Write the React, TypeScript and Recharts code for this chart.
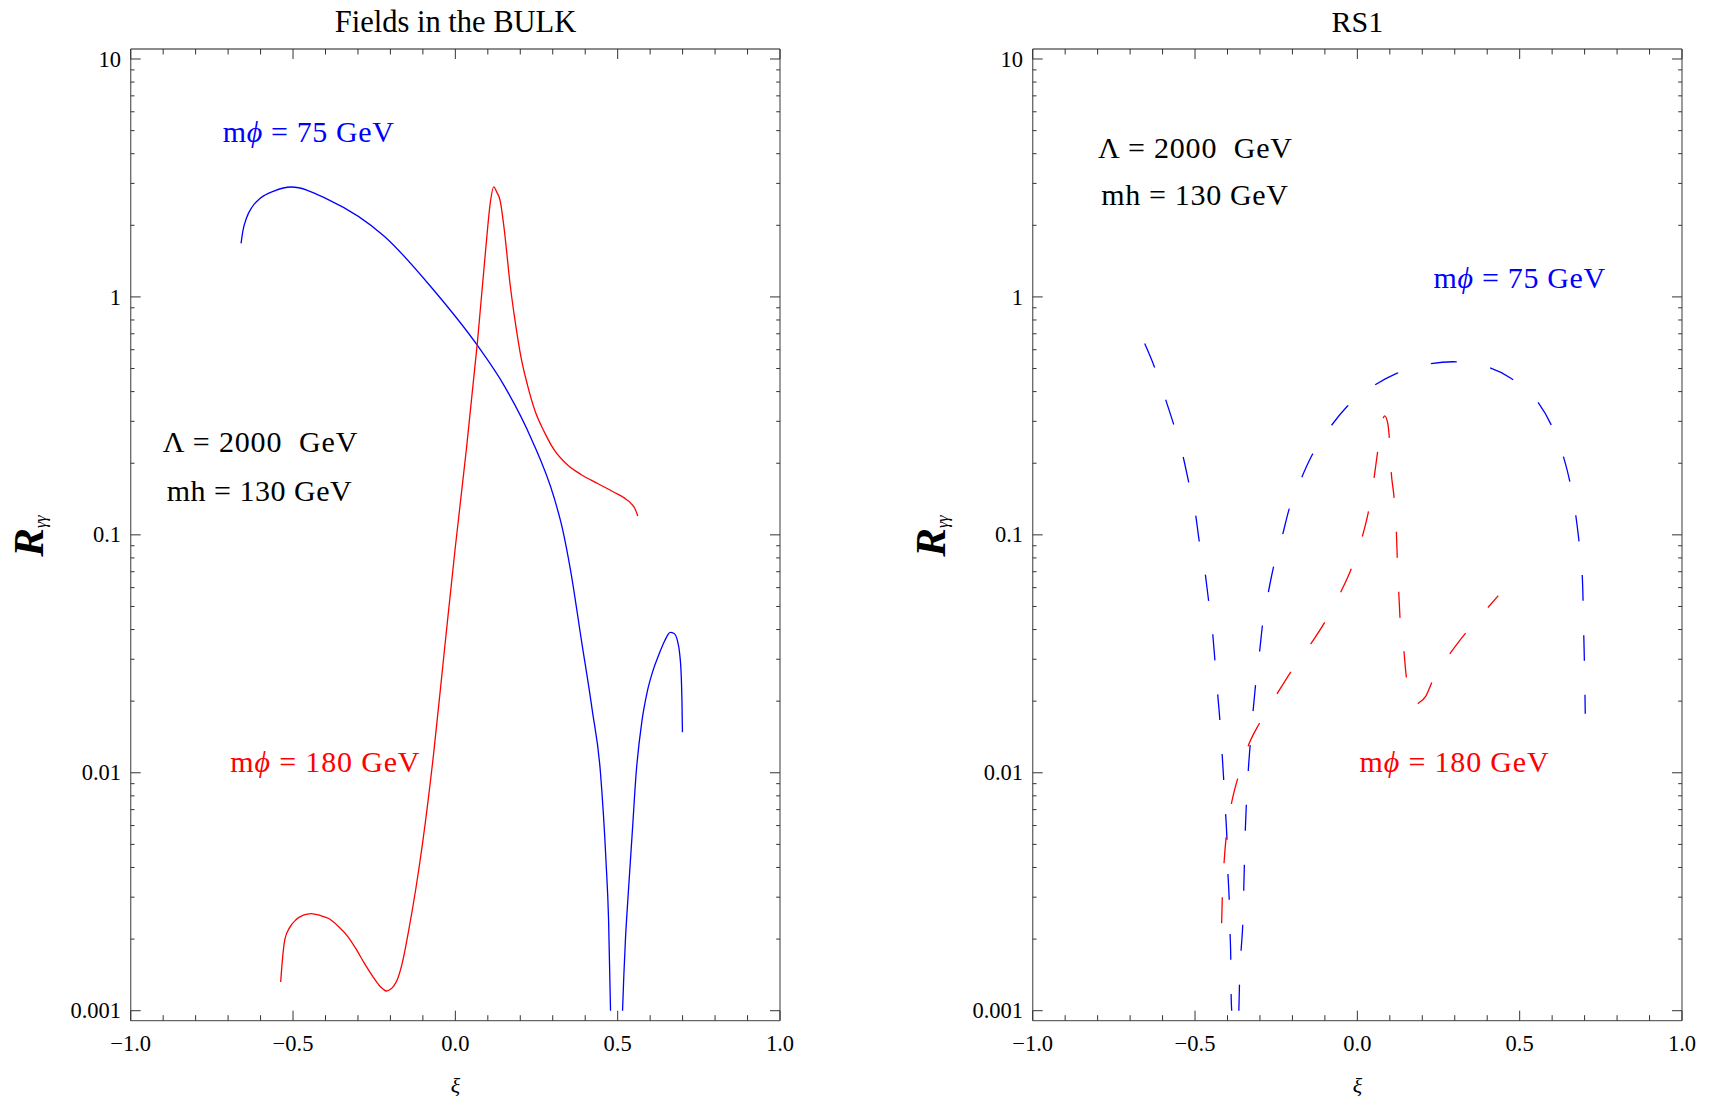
import React from 'react';
import { LineChart, Line, XAxis, YAxis } from 'recharts';

// ---- data: [ξ, Rγγ] pairs ----
// Fields in the BULK, mφ = 75 GeV (two branches either side of the zero near ξ≈0.5)
const bulk75A: number[][] = [
  [-0.66, 1.679], [-0.655, 1.875], [-0.643, 2.153], [-0.626, 2.388], [-0.601, 2.6],
  [-0.559, 2.786], [-0.506, 2.897], [-0.39, 2.56], [-0.219, 1.8], [-0.067, 1.069],
  [0.068, 0.625], [0.152, 0.42], [0.236, 0.25], [0.304, 0.1435], [0.33, 0.106],
  [0.355, 0.0708], [0.388, 0.0363], [0.422, 0.0182], [0.447, 0.01], [0.464, 0.00427],
  [0.472, 0.0024], [0.478, 0.001],
];
const bulk75B: number[][] = [
  [0.515, 0.001], [0.519, 0.00141], [0.524, 0.002], [0.532, 0.00302], [0.545, 0.00562],
  [0.557, 0.01], [0.575, 0.0166], [0.591, 0.0219], [0.61, 0.0272], [0.625, 0.0309],
  [0.645, 0.0359], [0.662, 0.0389], [0.674, 0.0385], [0.684, 0.0359], [0.691, 0.0316],
  [0.696, 0.0251], [0.698, 0.02], [0.6995, 0.0148],
];
// Fields in the BULK, mφ = 180 GeV
const bulk180: number[][] = [
  [-0.538, 0.00132], [-0.533, 0.00162], [-0.525, 0.002], [-0.51, 0.00224], [-0.491, 0.00241],
  [-0.468, 0.00252], [-0.444, 0.00256], [-0.415, 0.00251], [-0.39, 0.00244], [-0.36, 0.00226],
  [-0.33, 0.00204], [-0.305, 0.00181], [-0.28, 0.00158], [-0.254, 0.00139], [-0.235, 0.00128],
  [-0.222, 0.00123], [-0.212, 0.00121], [-0.2, 0.00123], [-0.19, 0.00127], [-0.178, 0.00136],
  [-0.162, 0.00162], [-0.145, 0.00213], [-0.122, 0.00324], [-0.101, 0.00506], [-0.067, 0.012],
  [-0.034, 0.0324], [0.0, 0.0891], [0.034, 0.229], [0.068, 0.646], [0.093, 1.56],
  [0.108, 2.51], [0.118, 2.9], [0.128, 2.75], [0.138, 2.54], [0.15, 1.95],
  [0.169, 1.12], [0.185, 0.776], [0.202, 0.56], [0.222, 0.427], [0.245, 0.333],
  [0.275, 0.269], [0.304, 0.228], [0.345, 0.197], [0.388, 0.179], [0.44, 0.164],
  [0.489, 0.151], [0.52, 0.143], [0.54, 0.136], [0.553, 0.129], [0.562, 0.12],
];
// RS1, mφ = 75 GeV
const rs75A: number[][] = [
  [-0.655, 0.637], [-0.625, 0.508], [-0.591, 0.372], [-0.566, 0.292], [-0.537, 0.214],
  [-0.519, 0.165], [-0.498, 0.121], [-0.487, 0.094], [-0.47, 0.071], [-0.459, 0.054],
  [-0.446, 0.039], [-0.439, 0.03], [-0.431, 0.022], [-0.424, 0.017], [-0.417, 0.0123],
  [-0.412, 0.0095], [-0.406, 0.0068], [-0.402, 0.0054], [-0.399, 0.0039], [-0.395, 0.003],
  [-0.392, 0.0021], [-0.39, 0.00168], [-0.389, 0.00121], [-0.387, 0.001],
];
const rs75B: number[][] = [
  [-0.365, 0.001], [-0.363, 0.0013], [-0.358, 0.0018], [-0.353, 0.0023], [-0.35, 0.0032],
  [-0.345, 0.0058], [-0.342, 0.0073], [-0.336, 0.0102], [-0.33, 0.0132], [-0.321, 0.0183],
  [-0.313, 0.0238], [-0.301, 0.0324], [-0.292, 0.042], [-0.274, 0.0575], [-0.257, 0.0745],
  [-0.232, 0.098], [-0.211, 0.127], [-0.174, 0.171], [-0.139, 0.217], [-0.085, 0.282],
  [-0.031, 0.347], [0.05, 0.423], [0.121, 0.477], [0.223, 0.523], [0.295, 0.534],
  [0.405, 0.505], [0.473, 0.455], [0.553, 0.366], [0.596, 0.292], [0.633, 0.217],
  [0.653, 0.171], [0.672, 0.123], [0.682, 0.096], [0.692, 0.071], [0.695, 0.0546],
  [0.697, 0.04], [0.699, 0.0308], [0.701, 0.022], [0.702, 0.0177],
];
// RS1, mφ = 180 GeV
const rs180: number[][] = [
  [-0.418, 0.00233], [-0.416, 0.003], [-0.411, 0.0041], [-0.404, 0.0054], [-0.389, 0.0073],
  [-0.38, 0.0083], [-0.368, 0.0095], [-0.334, 0.0132], [-0.301, 0.0162], [-0.248, 0.0214],
  [-0.203, 0.0268], [-0.144, 0.0347], [-0.098, 0.0435], [-0.051, 0.0575], [-0.017, 0.073],
  [0.013, 0.096], [0.033, 0.123], [0.05, 0.168], [0.062, 0.221], [0.076, 0.297],
  [0.084, 0.316], [0.093, 0.297], [0.099, 0.25], [0.104, 0.186], [0.113, 0.144],
  [0.12, 0.105], [0.123, 0.08], [0.127, 0.0595], [0.131, 0.0458], [0.143, 0.033],
  [0.15, 0.0259], [0.16, 0.0215], [0.172, 0.0192], [0.188, 0.0196], [0.211, 0.021],
  [0.233, 0.0246], [0.287, 0.0319], [0.338, 0.0393], [0.405, 0.05], [0.434, 0.0555],
];

// ---- axes ----
const X_TICKS = [
  -1, -0.9, -0.8, -0.7, -0.6, -0.5, -0.4, -0.3, -0.2, -0.1, 0,
  0.1, 0.2, 0.3, 0.4, 0.5, 0.6, 0.7, 0.8, 0.9, 1,
];
const Y_DECADES = [0.001, 0.01, 0.1, 1, 10];
const Y_MANTISSAS = [1, 2, 3, 4, 5, 6, 7, 8, 9];
const Y_TICKS = Y_DECADES.flatMap((d, i) =>
  i === Y_DECADES.length - 1 ? [d] : Y_MANTISSAS.map((m) => +(d * m).toPrecision(3))
);
const Y_PAD = 0.042;
const Y_DOMAIN = [Math.pow(10, -3 - Y_PAD), Math.pow(10, 1 + Y_PAD)];

const BLUE = '#0000ff';
const RED = '#ff0000';
const FRAME = '#666666';
const TICK = '#333333';
const SERIF = "'Liberation Serif', 'Times New Roman', serif";
const DASH = '26 34';

const toPts = (rows: number[][]) => rows.map(([x, y]) => ({ x, y }));
const isMajorX = (v: number) => Math.abs(v * 2 - Math.round(v * 2)) < 1e-6;
const isMajorY = (v: number) => {
  const l = Math.log10(v);
  return Math.abs(l - Math.round(l)) < 1e-6;
};
const fmtX = (v: number) => (v < 0 ? '\u2212' : '') + Math.abs(v).toFixed(1);

const BottomTick = (p: any) => {
  const v = p.payload.value;
  const major = isMajorX(v);
  return (
    <g>
      <line x1={p.x} x2={p.x} y1={p.y} y2={p.y - (major ? 10 : 5.5)} stroke={TICK} strokeWidth={1} />
      {major && (
        <text x={p.x} y={p.y + 30} textAnchor="middle" fontFamily={SERIF} fontSize={22.5} fill="#000">
          {fmtX(v)}
        </text>
      )}
    </g>
  );
};
const TopTick = (p: any) => {
  const major = isMajorX(p.payload.value);
  return <line x1={p.x} x2={p.x} y1={p.y} y2={p.y + (major ? 10 : 5.5)} stroke={TICK} strokeWidth={1} />;
};
const LeftTick = (p: any) => {
  const v = p.payload.value;
  const major = isMajorY(v);
  return (
    <g>
      <line x1={p.x} x2={p.x + (major ? 10 : 3.8)} y1={p.y} y2={p.y} stroke={TICK} strokeWidth={1} />
      {major && (
        <text x={p.x - 9.7} y={p.y + 7.6} textAnchor="end" fontFamily={SERIF} fontSize={22.5} fill="#000">
          {String(v)}
        </text>
      )}
    </g>
  );
};
const RightTick = (p: any) => {
  const major = isMajorY(p.payload.value);
  return <line x1={p.x} x2={p.x - (major ? 10 : 3.8)} y1={p.y} y2={p.y} stroke={TICK} strokeWidth={1} />;
};

type Series = { key: string; rows: number[][]; color: string; dashed: boolean };

const axisLine = { stroke: FRAME, strokeWidth: 1.3 };

function Panel({ left, width, marginLeft, marginRight, series }: {
  left: number; width: number; marginLeft: number; marginRight: number; series: Series[];
}) {
  return (
    <div style={{ position: 'absolute', left, top: 0, width, height: 1100 }}>
      <LineChart width={width} height={1100} margin={{ top: 19, right: marginRight, bottom: 49.3, left: marginLeft }}>
        <XAxis xAxisId="b" dataKey="x" type="number" domain={[-1, 1]} ticks={X_TICKS} interval={0}
          height={30} tickLine={false} tickSize={0} tickMargin={0} axisLine={axisLine}
          tick={(p: any) => <BottomTick {...p} />} allowDataOverflow />
        <XAxis xAxisId="t" orientation="top" dataKey="x" type="number" domain={[-1, 1]} ticks={X_TICKS} interval={0}
          height={30} tickLine={false} tickSize={0} tickMargin={0} axisLine={axisLine}
          tick={(p: any) => <TopTick {...p} />} allowDataOverflow />
        <YAxis yAxisId="l" type="number" scale="log" domain={Y_DOMAIN} ticks={Y_TICKS} interval={0}
          width={40} tickLine={false} tickSize={0} tickMargin={0} axisLine={axisLine}
          tick={(p: any) => <LeftTick {...p} />} allowDataOverflow />
        <YAxis yAxisId="r" orientation="right" type="number" scale="log" domain={Y_DOMAIN} ticks={Y_TICKS} interval={0}
          width={10} tickLine={false} tickSize={0} tickMargin={0} axisLine={axisLine}
          tick={(p: any) => <RightTick {...p} />} allowDataOverflow />
        {series.map((s) => (
          <Line key={s.key} xAxisId="b" yAxisId="l" data={toPts(s.rows)} dataKey="y" type="monotone"
            stroke={s.color} strokeWidth={1.3} strokeDasharray={s.dashed ? DASH : undefined}
            dot={false} activeDot={false} isAnimationActive={false} />
        ))}
      </LineChart>
    </div>
  );
}

const bulkSeries: Series[] = [
  { key: 'b75a', rows: bulk75A, color: BLUE, dashed: false },
  { key: 'b75b', rows: bulk75B, color: BLUE, dashed: false },
  { key: 'b180', rows: bulk180, color: RED, dashed: false },
];
const rsSeries: Series[] = [
  { key: 'r75a', rows: rs75A, color: BLUE, dashed: true },
  { key: 'r75b', rows: rs75B, color: BLUE, dashed: true },
  { key: 'r180', rows: rs180, color: RED, dashed: true },
];

const Note = ({ x, y, w, color = '#000', children }: any) => (
  <text x={x} y={y} fontSize={30} fill={color} textLength={w} lengthAdjust="spacing" style={{ whiteSpace: 'pre' }}>
    {children}
  </text>
);
const Phi = () => <tspan fontStyle="italic">ϕ</tspan>;

const YLabel = ({ x }: { x: number }) => (
  <text transform={`rotate(-90 ${x} 536)`} x={x} y={536} textAnchor="middle">
    <tspan fontSize={43} fontWeight="bold" fontStyle="italic">R</tspan>
    <tspan fontSize={16} fontStyle="italic" dy={3}>γγ</tspan>
  </text>
);

export default function App() {
  return (
    <div style={{ position: 'absolute', left: 0, top: 0, width: 1715, height: 1100, background: '#fff', overflow: 'hidden' }}>
      <Panel left={0} width={857} marginLeft={90.7} marginRight={67} series={bulkSeries} />
      <Panel left={857} width={858} marginLeft={135.7} marginRight={23} series={rsSeries} />
      <svg width={1715} height={1100} style={{ position: 'absolute', left: 0, top: 0, pointerEvents: 'none' }}
        fontFamily={SERIF}>
        <text x={455.5} y={32} textAnchor="middle" fontSize={30.5}>Fields in the BULK</text>
        <text x={1357.4} y={32} textAnchor="middle" fontSize={30}>RS1</text>

        <YLabel x={43.3} />
        <YLabel x={945.3} />
        <text x={455.5} y={1093} textAnchor="middle" fontSize={22} fontStyle="italic">ξ</text>
        <text x={1357.4} y={1093} textAnchor="middle" fontSize={22} fontStyle="italic">ξ</text>

        <Note x={222.7} y={141.7} w={171.3} color={BLUE}>m<Phi /> = 75 GeV</Note>
        <Note x={162.7} y={452.3} w={194.6}>Λ = 2000  GeV</Note>
        <Note x={166.7} y={500.7} w={185}>mh = 130 GeV</Note>
        <Note x={230.3} y={771.5} w={189.2} color={RED}>m<Phi /> = 180 GeV</Note>

        <Note x={1098} y={158} w={194}>Λ = 2000  GeV</Note>
        <Note x={1101.2} y={204.9} w={186.8}>mh = 130 GeV</Note>
        <Note x={1433.6} y={287.6} w={171.6} color={BLUE}>m<Phi /> = 75 GeV</Note>
        <Note x={1359.5} y={771.5} w={189.2} color={RED}>m<Phi /> = 180 GeV</Note>
      </svg>
    </div>
  );
}
